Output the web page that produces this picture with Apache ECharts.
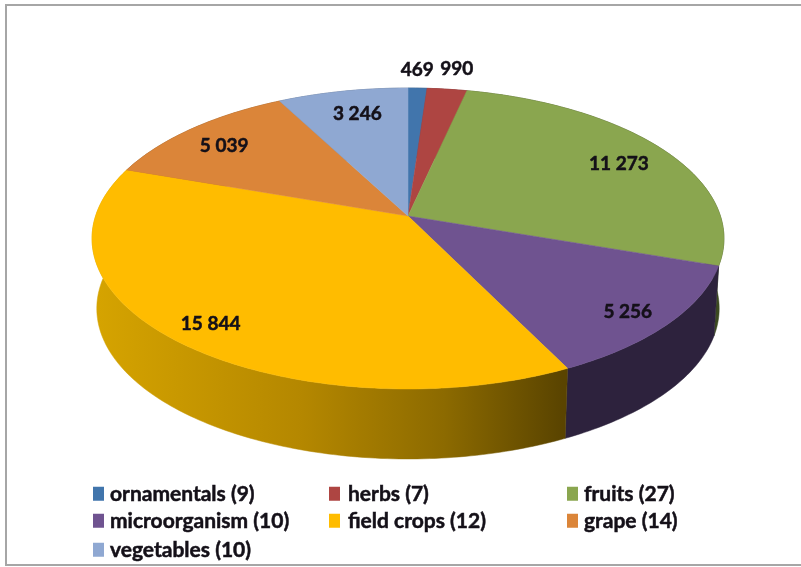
<!DOCTYPE html>
<html><head><meta charset="utf-8">
<style>html,body{margin:0;padding:0;background:#fff}#c{width:801px;height:567px}</style>
<script src="https://cdn.jsdelivr.net/npm/echarts@6/dist/echarts.min.js"></script>
</head><body><div id="c"></div>
<script>
// Data
const categories = ['ornamentals (9)','herbs (7)','fruits (27)','microorganism (10)','field crops (12)','grape (14)','vegetables (10)'];
const values = [469,990,11273,5256,15844,5039,3246];
const valueLabels = ['469','990','11 273','5 256','15 844','5 039','3 246'];
// Style
const topColors = ['#4175AC','#AE4542','#8AA64F','#6F5390','#FFBC00','#DB8539','#8FA8D2'];
const wallColors = ['#2a4766','#6a2a28','#3c4a20','#2D223D','#B88A00','#84501f','#566680'];
// Projection of the tilted disc
const CX=408, CY=216, A=312.4, B=147.1, K=0.1495, DEPTH=70, BOTTOM_SCALE=0.985;
const LABEL_R=0.85;
const labelNudge=[[1,-35],[15,-37],[-7,6],[2,6],[-3,4],[2,5],[6,6]];
const legendCols=[93,329,567], legendRows=[483,510,539], legendTextPad=[1,3,1];
const total=values.reduce((a,b)=>a+b,0);
const starts=[]; values.reduce((s,v,i)=>{starts[i]=s;return s+v;},0);
const ang=v=>v/total*Math.PI*2;
function proj(t,r){
  const u=Math.sin(t)*r, v=-Math.cos(t)*r, w=1-K*v;
  return [CX+A*u/w, CY+B*v/w];
}
function arc(i,r){
  const a0=ang(starts[i]), a1=ang(starts[i]+values[i]), n=Math.max(4,Math.ceil((a1-a0)*60)), pts=[];
  for(let j=0;j<=n;j++) pts.push(proj(a0+(a1-a0)*j/n,r));
  return pts;
}
function wallFill(i){
  if(i===4) return new echarts.graphic.LinearGradient(92,0,562,0,[
    {offset:0,color:'#D6A400'},{offset:0.45,color:'#B48700'},{offset:0.75,color:'#8C6A00'},{offset:1,color:'#5A4400'}],true);
  return wallColors[i];
}
const series=[];
// walls
series.push({type:'custom',coordinateSystem:'none',z:2,silent:true,data:values,
  renderItem(p){
    const i=p.dataIndex, top=arc(i,1);
    const bot=top.map(q=>[CX+(q[0]-CX)*BOTTOM_SCALE,q[1]+DEPTH]).reverse();
    const c=wallFill(i);
    return {type:'polygon',shape:{points:top.concat(bot)},style:{fill:c,stroke:c,lineWidth:0.5}};
  }});
// tops, one series per slice for the legend
categories.forEach((name,idx)=>{
  series.push({type:'custom',name,coordinateSystem:'none',z:3,silent:true,
    itemStyle:{color:topColors[idx]},data:[values[idx]],
    renderItem(){
      return {type:'polygon',shape:{points:[[CX,CY]].concat(arc(idx,1))},
        style:{fill:topColors[idx],stroke:topColors[idx],lineWidth:0.5}};
    }});
});
// value labels
series.push({type:'custom',coordinateSystem:'none',z:5,silent:true,data:values,
  renderItem(p){
    const i=p.dataIndex, q=proj(ang(starts[i]+values[i]/2),LABEL_R);
    return {type:'text',style:{x:q[0]+labelNudge[i][0],y:q[1]+labelNudge[i][1],text:valueLabels[i],
      fill:'#141018',font:'bold 19px Lato',align:'center',verticalAlign:'middle',
      stroke:'#141018',lineWidth:0.5}};
  }});
const legends=categories.map((name,i)=>({
  data:[name],left:legendCols[i%3],top:legendRows[Math.floor(i/3)],padding:0,
  icon:'rect',itemWidth:11,itemHeight:14,itemGap:0,selectedMode:false,
  textStyle:{fontFamily:'Lato',fontWeight:'bold',fontSize:21,color:'#141018',
    textBorderColor:'#141018',textBorderWidth:0.5,padding:[0,0,0,legendTextPad[i%3]]}
}));
const chart=echarts.init(document.getElementById('c'),null,{renderer:'canvas'});
chart.setOption({
  animation:false,backgroundColor:'#fff',legend:legends,series,
  graphic:[{type:'polyline',silent:true,shape:{points:[[830,5],[6,5],[6,565],[830,565]]},
    style:{stroke:'#a6a6a6',lineWidth:2,fill:null}}]
});
</script></body></html>
